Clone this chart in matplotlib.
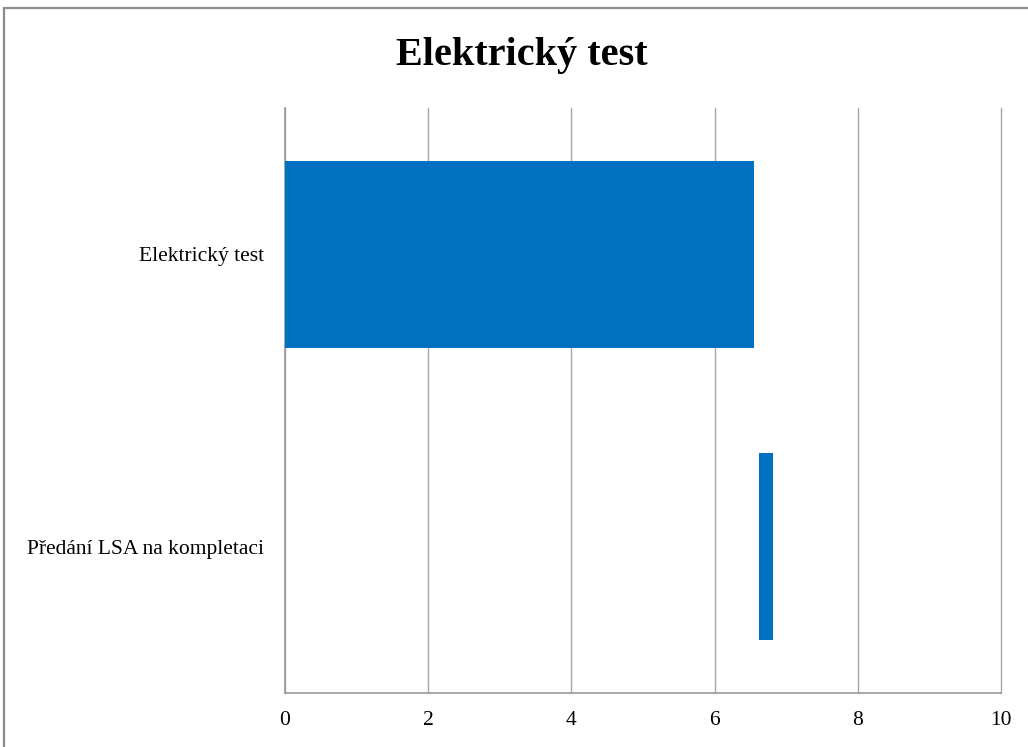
import matplotlib.pyplot as plt
from matplotlib.patches import Rectangle

plt.rcParams['font.family'] = ['Liberation Serif', 'DejaVu Serif']

# Gantt data: tasks from top to bottom, start offset and duration
tasks = ["Elektrický test", "Předání LSA na kompletaci"]
start = [0.0, 6.62]
duration = [6.55, 0.20]
xticks = [0, 2, 4, 6, 8, 10]

bar_color = "#0070C0"
grid_color = "#A6A6A6"

fig = plt.figure(figsize=(10.28, 7.47), dpi=100)

# outer chart frame (cut off at the right and bottom edge)
fig.patches.append(Rectangle((4 / 1028, -0.1), 1.2, 1 - 8 / 747 + 0.1,
                             transform=fig.transFigure, fill=False,
                             edgecolor="#8C8C8C", linewidth=1.6))

ax = fig.add_axes([285 / 1028, 1 - 693 / 747, 716 / 1028, 585 / 747])

ypos = list(range(len(tasks)))
ax.barh(ypos, duration, left=start, height=0.64, color=bar_color,
        edgecolor="none", zorder=3)

ax.set_xlim(0, 10)
ax.set_ylim(len(tasks) - 0.5, -0.5)
ax.set_xticks(xticks)
ax.set_xticklabels([str(v) for v in xticks])
ax.set_yticks(ypos)
ax.set_yticklabels(tasks)
ax.tick_params(axis="x", length=0, pad=13, labelsize=15.5)
ax.tick_params(axis="y", length=0, pad=15, labelsize=15.5)

ax.grid(axis="x", color=grid_color, linewidth=1.0, zorder=0)
ax.set_axisbelow(True)
for line in ax.get_xgridlines():
    line.set_clip_on(False)
for side in ("top", "right"):
    ax.spines[side].set_visible(False)
for side in ("left", "bottom"):
    ax.spines[side].set_color("#9A9A9A")
    ax.spines[side].set_linewidth(1.2)

fig.text(0.508, 1 - 55 / 747, "Elektrický test", ha="center", va="center",
         fontsize=29, fontweight="bold")

fig.savefig("out.png", dpi=100)
